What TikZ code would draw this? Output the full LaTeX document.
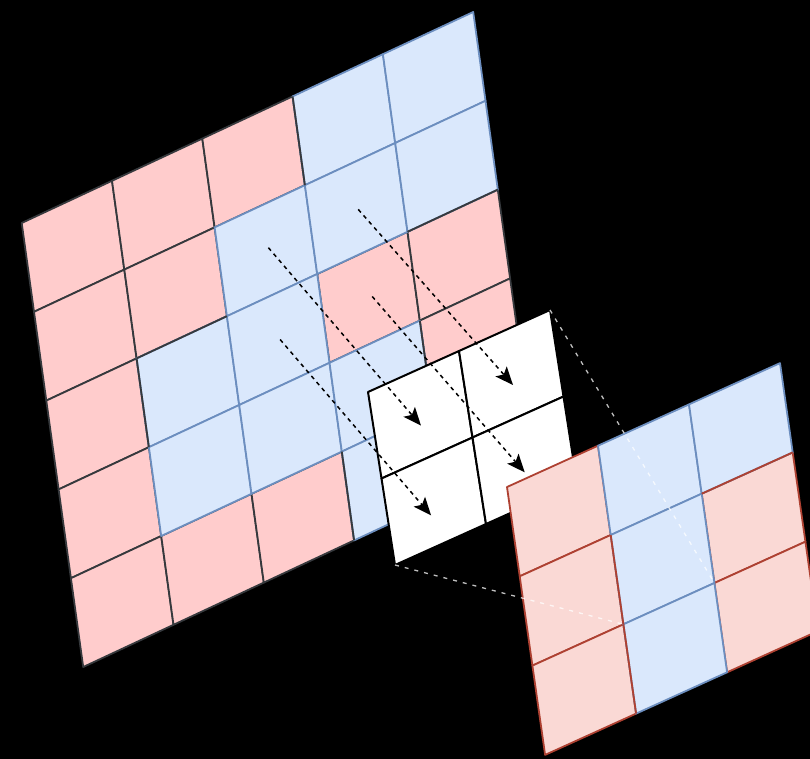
\documentclass[tikz,border=0pt]{standalone}
\usetikzlibrary{arrows.meta}
\definecolor{pinkfill}{HTML}{FFCCCC}
\definecolor{darkline}{HTML}{36393D}
\definecolor{bluefill}{HTML}{DAE8FC}
\definecolor{blueline}{HTML}{6C8EBF}
\definecolor{outpink}{HTML}{FAD9D5}
\definecolor{redline}{HTML}{AE4132}
\begin{document}
\begin{tikzpicture}[x=1pt,y=1pt,
  pinkcell/.style={fill=pinkfill,draw=darkline,line width=1.8pt,line join=round},
  bluecell/.style={fill=bluefill,draw=blueline,line width=1.8pt,line join=round},
  darkedge/.style={draw=darkline,line width=1.8pt},
  kcell/.style={fill=white,draw=black,line width=2pt,line join=round},
  opink/.style={fill=outpink,draw=redline,line width=1.8pt,line join=round},
  oblue/.style={fill=bluefill,draw=blueline,line width=1.8pt,line join=round},
  rededge/.style={draw=redline,line width=1.8pt},
  flowarrow/.style={draw=black,line width=1.5pt,dash pattern=on 4pt off 4pt,
    -{Stealth[length=18pt,width=15pt,inset=4pt]}},
  projline/.style={draw=white,draw opacity=0.75,line width=1.3pt,dash pattern=on 4pt off 6pt}]
\useasboundingbox (0,0) rectangle (810,-759);
\clip (0,0) rectangle (810,-759);
\fill[black] (0,0) rectangle (810,-759);
% big input grid
\begin{scope}[shift={(21.7pt,-223pt)},x={(90.3pt,42.2pt)},y={(12.3pt,-88.8pt)}]
  \foreach \c/\r in {0/0,1/0,2/0,0/1,1/1,0/2,3/2,4/2,0/3,4/3,0/4,1/4,2/4}
    \draw[pinkcell] (\c,\r) -- ++(1,0) -- ++(0,1) -- ++(-1,0) -- cycle;
  \foreach \c/\r in {3/0,4/0,2/1,3/1,4/1,1/2,2/2,1/3,2/3,3/3,3/4,4/4}
    \draw[bluecell] (\c,\r) -- ++(1,0) -- ++(0,1) -- ++(-1,0) -- cycle;
  \draw[darkedge] (3,0) -- (3,1);
  \draw[darkedge] (1,2) -- (2,2);
  \draw[darkedge] (1,2) -- (1,3);
  \draw[darkedge] (4,2) -- (5,2);
  \draw[darkedge] (4,3) -- (4,4);
  \draw[darkedge] (3,4) -- (3,5);
  \coordinate (s1) at (2.53,1.48);
  \coordinate (s2) at (3.52,1.52);
  \coordinate (s3) at (2.52,2.51);
  \coordinate (s4) at (3.54,2.51);
\end{scope}
% kernel
\begin{scope}[shift={(368pt,-392pt)},x={(91pt,41pt)},y={(13.5pt,-86.5pt)}]
  \foreach \c/\r in {0/0,1/0,0/1,1/1}
    \draw[kcell] (\c,\r) -- ++(1,0) -- ++(0,1) -- ++(-1,0) -- cycle;
  \coordinate (t1) at (0.49,0.62);
  \coordinate (t2) at (1.50,0.63);
  \coordinate (t3) at (0.45,1.64);
  \coordinate (t4) at (1.48,1.63);
  \coordinate (ktr) at (2,0);
  \coordinate (kbl) at (0,2);
\end{scope}
\draw[flowarrow] (s1) -- (t1);
\draw[flowarrow] (s2) -- (t2);
\draw[flowarrow] (s3) -- (t3);
\draw[flowarrow] (s4) -- (t4);
% output grid
\begin{scope}[shift={(507pt,-487pt)},x={(91pt,41.3pt)},y={(12.7pt,-89.3pt)}]
  \foreach \c/\r in {0/0,0/1,0/2,2/1,2/2}
    \draw[opink] (\c,\r) -- ++(1,0) -- ++(0,1) -- ++(-1,0) -- cycle;
  \foreach \c/\r in {1/0,2/0,1/1,1/2}
    \draw[oblue] (\c,\r) -- ++(1,0) -- ++(0,1) -- ++(-1,0) -- cycle;
  \draw[rededge] (1,1) -- (1,2);
  \draw[rededge] (1,2) -- (1,3);
  \draw[rededge] (2,1) -- (3,1);
  \coordinate (o22) at (2,2);
  \coordinate (o12) at (1,2);
\end{scope}
\draw[projline] (ktr) -- (o22);
\draw[projline] (kbl) -- (o12);
\end{tikzpicture}
\end{document}
